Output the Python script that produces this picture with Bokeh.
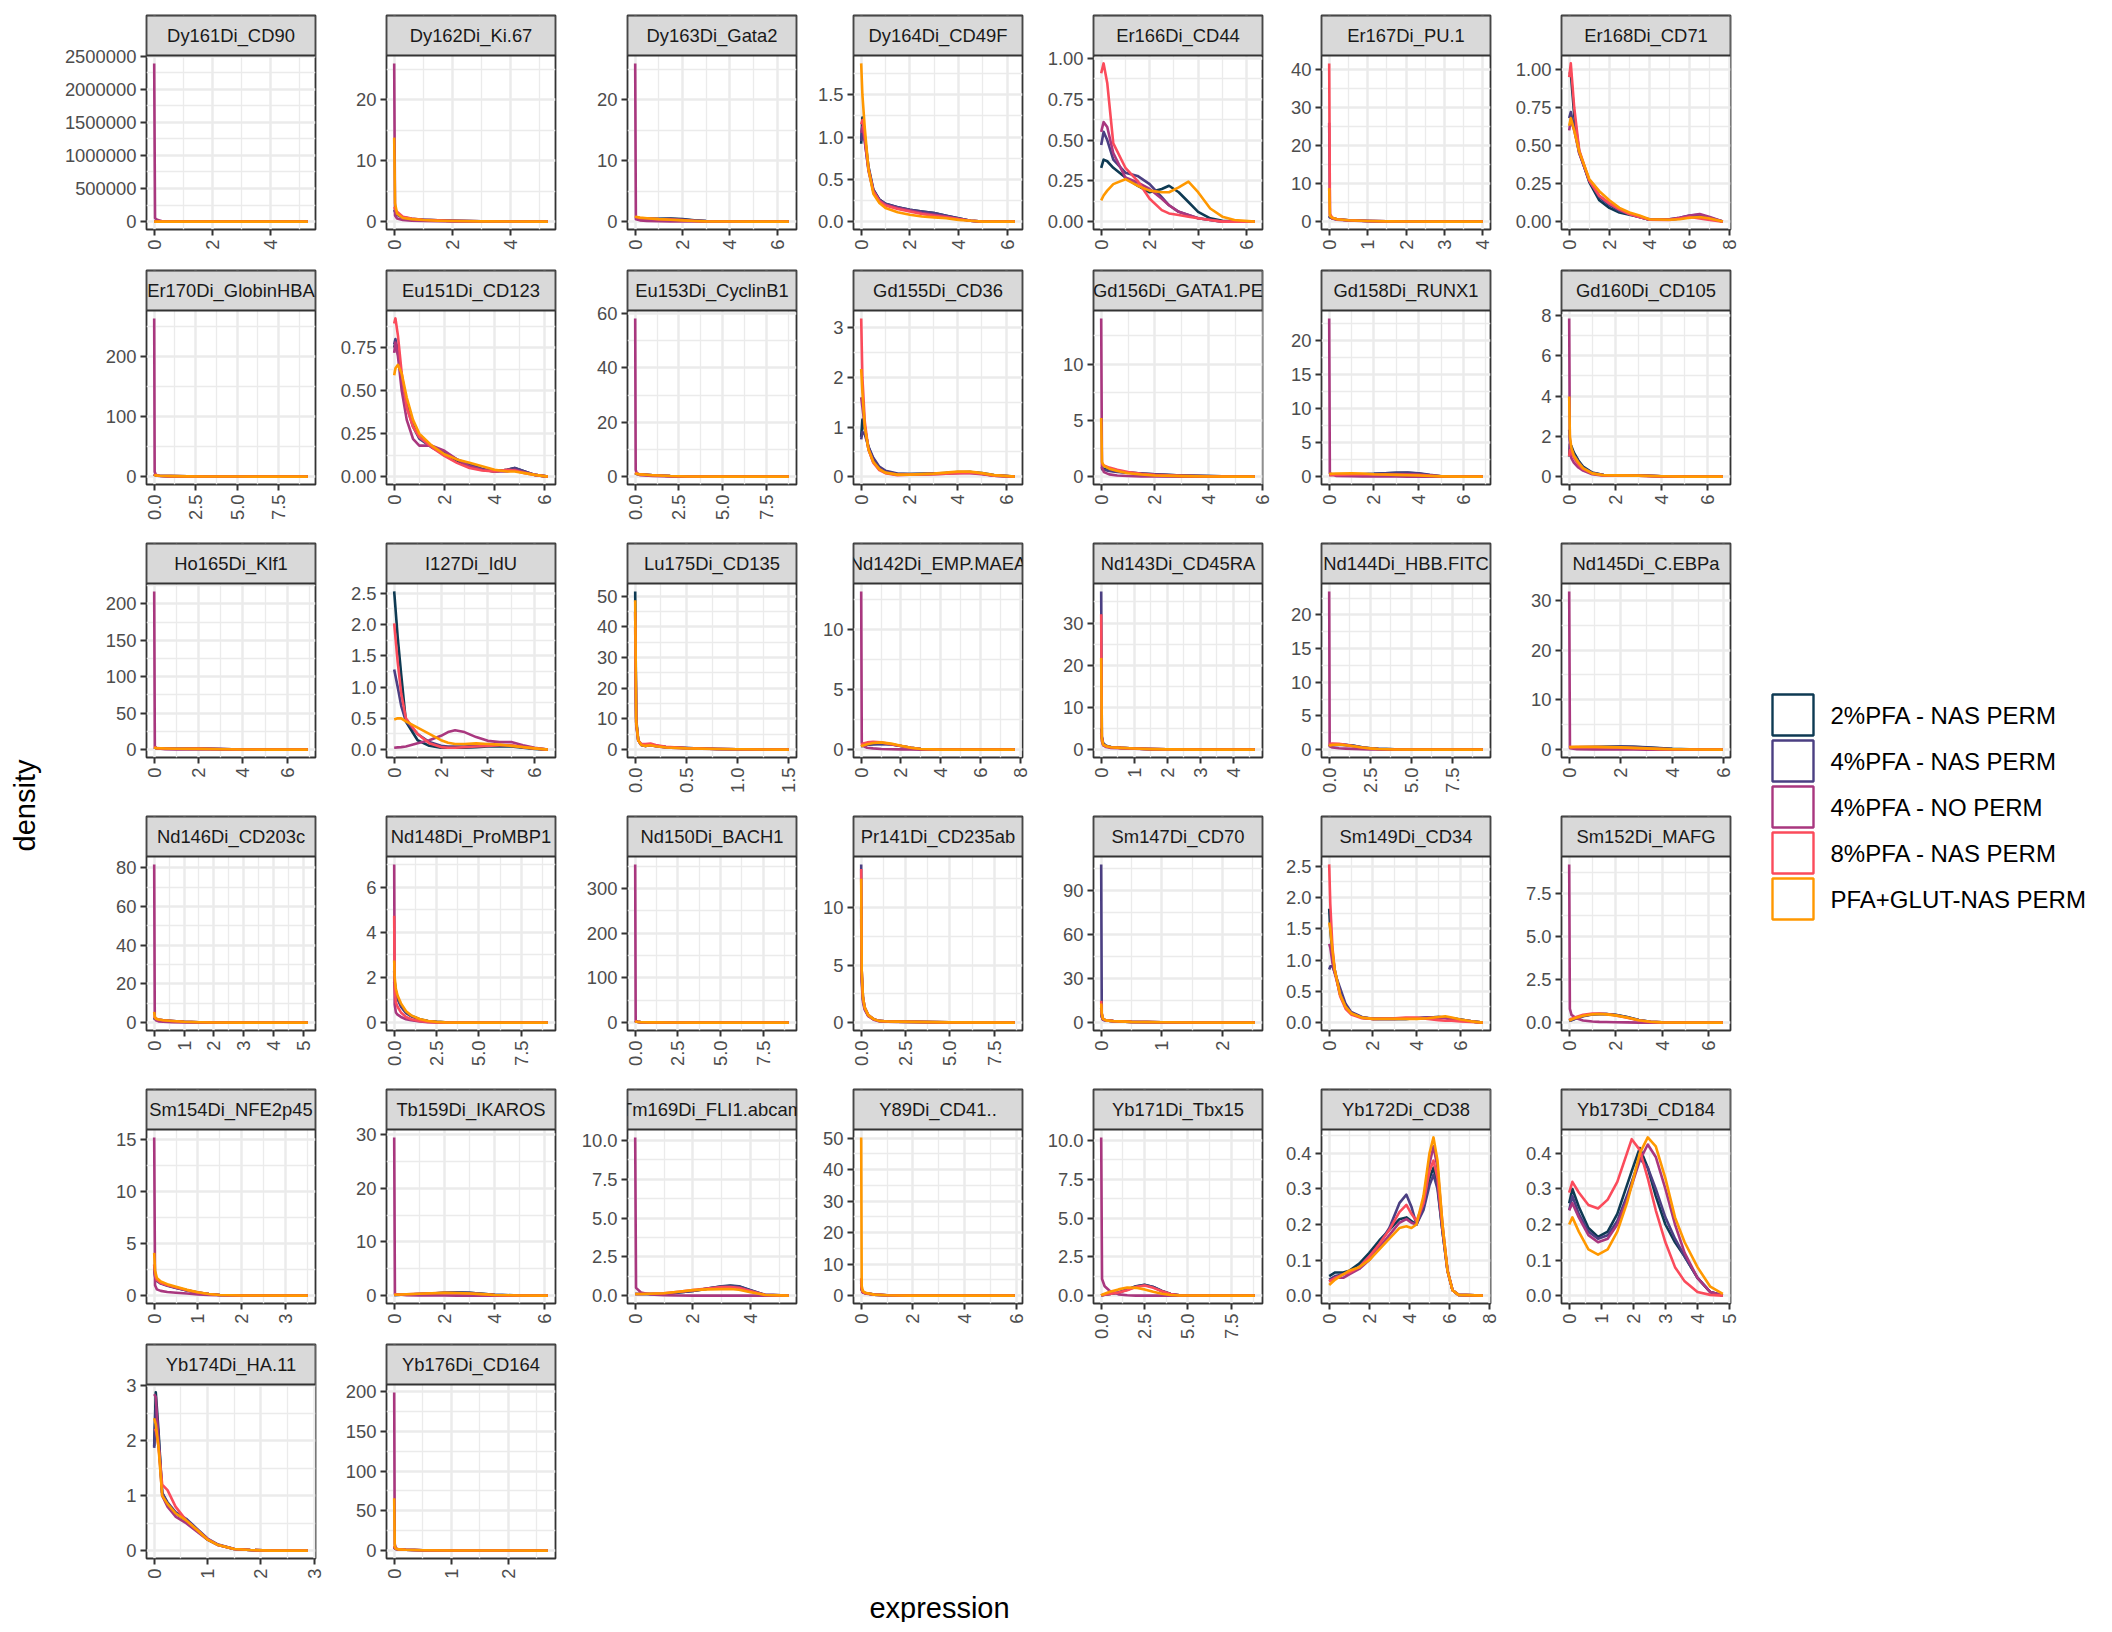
from math import pi

from bokeh.core.properties import value
from bokeh.embed import file_html
from bokeh.layouts import column, row
from bokeh.models import CustomJSTickFormatter, FixedTicker, Range1d
from bokeh.plotting import figure
from bokeh.resources import INLINE

# ---- series -------------------------------------------------------------
SERIES = ["2%PFA - NAS PERM", "4%PFA - NAS PERM", "4%PFA - NO PERM",
          "8%PFA - NAS PERM", "PFA+GLUT-NAS PERM"]
COLORS = ["#0e3a53", "#4b3f82", "#a9377f", "#fb4b5b", "#ff9800"]

# ---- per-panel density curves (one y list per series, in SERIES order) ----
x_dy161 = [0, 0.03, 0.1, 0.3, 1, 2, 3, 4, 5.3]
y_dy161 = [[20, 5, 2, 1, 0.3, 0.1, 0.05, 0.02, 0],
           [18, 5, 2, 1, 0.3, 0.1, 0.05, 0.02, 0],
           [2390000, 50000, 30000, 0, 0, 0, 0, 0, 0],
           [22, 6, 2, 1, 0.3, 0.1, 0.05, 0.02, 0],
           [25, 6, 2, 1, 0.3, 0.1, 0.05, 0.02, 0]]
xt_dy161 = [0, 2, 4]
yt_dy161 = [0, 500000, 1000000, 1500000, 2000000, 2500000]

x_dy162 = [0, 0.03, 0.1, 0.3, 0.6, 1, 1.5, 2, 3, 4, 5.3]
y_dy162 = [[2.0, 1.8, 1.3, 0.7, 0.45, 0.3, 0.2, 0.12, 0.05, 0.02, 0],
           [1.8, 1.6, 1.1, 0.6, 0.4, 0.3, 0.2, 0.12, 0.05, 0.02, 0],
           [26, 1.0, 0.5, 0.25, 0.15, 0.1, 0.06, 0.04, 0.02, 0.01, 0],
           [2.4, 2.1, 1.6, 0.8, 0.5, 0.3, 0.2, 0.12, 0.05, 0.02, 0],
           [13.8, 3.0, 1.3, 0.6, 0.4, 0.25, 0.15, 0.1, 0.04, 0.02, 0]]
xt_dy162 = [0, 2, 4]
yt_dy162 = [0, 10, 20]

x_dy163 = [0, 0.03, 0.2, 0.5, 1, 1.5, 2, 2.5, 3, 4, 5, 6.5]
y_dy163 = [[0.6, 0.6, 0.55, 0.5, 0.45, 0.5, 0.4, 0.2, 0.08, 0.02, 0, 0],
           [0.5, 0.5, 0.45, 0.4, 0.4, 0.45, 0.35, 0.18, 0.07, 0.02, 0, 0],
           [26, 0.4, 0.2, 0.1, 0.05, 0.03, 0.02, 0.01, 0, 0, 0, 0],
           [0.8, 0.75, 0.6, 0.5, 0.4, 0.35, 0.25, 0.12, 0.05, 0.01, 0, 0],
           [0.9, 0.8, 0.65, 0.55, 0.4, 0.3, 0.2, 0.1, 0.04, 0.01, 0, 0]]
xt_dy163 = [0, 2, 4, 6]
yt_dy163 = [0, 10, 20]

x_dy164 = [0, 0.05, 0.15, 0.3, 0.5, 0.75, 1, 1.5, 2, 2.5, 3, 3.5, 4, 4.5, 5, 6.32]
y_dy164 = [[0.92, 1.23, 1.0, 0.65, 0.38, 0.26, 0.21, 0.17, 0.14, 0.12, 0.1, 0.07, 0.04, 0.01, 0, 0],
           [0.95, 1.1, 0.95, 0.62, 0.37, 0.26, 0.21, 0.17, 0.14, 0.12, 0.1, 0.07, 0.04, 0.01, 0, 0],
           [1.05, 1.12, 0.95, 0.6, 0.36, 0.25, 0.2, 0.16, 0.13, 0.1, 0.08, 0.06, 0.03, 0.01, 0, 0],
           [1.15, 1.2, 1.0, 0.63, 0.36, 0.24, 0.19, 0.15, 0.12, 0.09, 0.07, 0.05, 0.03, 0.01, 0, 0],
           [1.87, 1.5, 1.1, 0.62, 0.33, 0.22, 0.16, 0.11, 0.08, 0.06, 0.05, 0.04, 0.02, 0.01, 0, 0]]
xt_dy164 = [0, 2, 4, 6]
yt_dy164 = [0, 0.5, 1.0, 1.5]

x_er166 = [0, 0.1, 0.25, 0.5, 1, 1.5, 2, 2.5, 2.8, 3.2, 3.6, 4, 4.5, 5, 5.5, 6.34]
y_er166 = [[0.33, 0.38, 0.37, 0.33, 0.27, 0.22, 0.18, 0.2, 0.22, 0.18, 0.12, 0.06, 0.02, 0.005, 0, 0],
           [0.47, 0.55, 0.5, 0.38, 0.3, 0.28, 0.23, 0.15, 0.1, 0.06, 0.04, 0.02, 0.01, 0, 0, 0],
           [0.55, 0.61, 0.58, 0.42, 0.27, 0.24, 0.2, 0.14, 0.1, 0.06, 0.04, 0.02, 0.01, 0, 0, 0],
           [0.91, 0.97, 0.85, 0.48, 0.33, 0.25, 0.14, 0.07, 0.05, 0.04, 0.03, 0.02, 0.01, 0, 0, 0],
           [0.13, 0.16, 0.19, 0.23, 0.26, 0.22, 0.19, 0.18, 0.18, 0.21, 0.245, 0.18, 0.08, 0.03, 0.01, 0]]
xt_er166 = [0, 2, 4, 6]
yt_er166 = [0, 0.25, 0.5, 0.75, 1.0]

x_er167 = [0, 0.02, 0.08, 0.2, 0.5, 1, 1.5, 2, 3, 4.0]
y_er167 = [[1.5, 1.2, 0.9, 0.6, 0.35, 0.15, 0.06, 0.02, 0, 0],
           [1.4, 1.1, 0.85, 0.6, 0.35, 0.15, 0.06, 0.02, 0, 0],
           [26, 1.5, 0.8, 0.5, 0.3, 0.12, 0.05, 0.02, 0, 0],
           [41.6, 2.0, 1.0, 0.6, 0.35, 0.15, 0.06, 0.02, 0, 0],
           [8.8, 1.5, 1.0, 0.6, 0.35, 0.15, 0.06, 0.02, 0, 0]]
xt_er167 = [0, 1, 2, 3, 4]
yt_er167 = [0, 10, 20, 30, 40]

x_er168 = [0, 0.08, 0.25, 0.5, 1, 1.5, 2, 2.5, 3, 3.5, 4, 5, 5.5, 6, 6.5, 7, 7.65]
y_er168 = [[0.97, 0.98, 0.7, 0.46, 0.26, 0.14, 0.09, 0.06, 0.045, 0.03, 0.012, 0.012, 0.02, 0.03, 0.04, 0.02, 0],
           [0.68, 0.72, 0.62, 0.45, 0.27, 0.16, 0.11, 0.07, 0.05, 0.03, 0.012, 0.015, 0.025, 0.04, 0.045, 0.025, 0],
           [0.6, 0.67, 0.6, 0.45, 0.27, 0.17, 0.12, 0.08, 0.05, 0.03, 0.015, 0.015, 0.025, 0.04, 0.05, 0.03, 0],
           [0.95, 1.04, 0.75, 0.47, 0.27, 0.17, 0.12, 0.08, 0.05, 0.03, 0.012, 0.01, 0.02, 0.03, 0.02, 0.01, 0],
           [0.63, 0.68, 0.6, 0.46, 0.28, 0.2, 0.14, 0.09, 0.06, 0.04, 0.015, 0.012, 0.015, 0.025, 0.03, 0.02, 0]]
xt_er168 = [0, 2, 4, 6, 8]
yt_er168 = [0, 0.25, 0.5, 0.75, 1.0]

x_er170 = [0, 0.03, 0.1, 0.3, 1, 2, 3, 5, 7, 9.25]
y_er170 = [[4, 3, 2, 1.5, 0.8, 0.4, 0.2, 0.05, 0, 0],
           [3.5, 2.8, 2, 1.4, 0.8, 0.4, 0.2, 0.05, 0, 0],
           [264, 8, 3, 1, 0.3, 0.1, 0.05, 0, 0, 0],
           [4.2, 3, 2, 1.5, 0.8, 0.4, 0.2, 0.05, 0, 0],
           [3, 2.5, 2, 1.5, 0.8, 0.4, 0.2, 0.05, 0, 0]]
xt_er170 = [0, 2.5, 5, 7.5]
yt_er170 = [0, 100, 200]

x_eu151 = [0, 0.05, 0.15, 0.3, 0.5, 0.75, 1, 1.5, 2, 2.5, 3, 3.5, 4, 4.5, 4.8, 5.2, 5.6, 6.12]
y_eu151 = [[0.75, 0.78, 0.72, 0.58, 0.42, 0.3, 0.23, 0.17, 0.13, 0.09, 0.06, 0.04, 0.03, 0.04, 0.05, 0.03, 0.01, 0],
           [0.77, 0.8, 0.73, 0.58, 0.41, 0.29, 0.22, 0.17, 0.14, 0.1, 0.07, 0.045, 0.03, 0.04, 0.05, 0.03, 0.01, 0],
           [0.72, 0.78, 0.7, 0.5, 0.33, 0.22, 0.18, 0.18, 0.15, 0.1, 0.06, 0.04, 0.03, 0.03, 0.04, 0.025, 0.01, 0],
           [0.89, 0.92, 0.82, 0.6, 0.4, 0.29, 0.23, 0.17, 0.12, 0.08, 0.05, 0.035, 0.03, 0.04, 0.035, 0.02, 0.01, 0],
           [0.59, 0.63, 0.65, 0.6, 0.46, 0.33, 0.25, 0.18, 0.13, 0.1, 0.08, 0.06, 0.04, 0.03, 0.03, 0.02, 0.01, 0]]
xt_eu151 = [0, 2, 4, 6]
yt_eu151 = [0, 0.25, 0.5, 0.75]

x_eu153 = [0, 0.03, 0.1, 0.3, 1, 2, 3, 5, 8.78]
y_eu153 = [[1.2, 1.1, 1.0, 0.8, 0.5, 0.2, 0.05, 0, 0],
           [1.1, 1.05, 1.0, 0.8, 0.5, 0.2, 0.05, 0, 0],
           [58.2, 2.5, 1.0, 0.5, 0.2, 0.05, 0, 0, 0],
           [1.5, 1.3, 1.1, 0.8, 0.5, 0.2, 0.05, 0, 0],
           [1.3, 1.2, 1.0, 0.8, 0.5, 0.2, 0.05, 0, 0]]
xt_eu153 = [0, 2.5, 5, 7.5]
yt_eu153 = [0, 20, 40, 60]

x_gd155 = [0, 0.05, 0.15, 0.3, 0.5, 0.75, 1, 1.5, 2, 3, 3.5, 4, 4.5, 5, 5.5, 6.36]
y_gd155 = [[0.8, 1.15, 0.95, 0.6, 0.35, 0.18, 0.1, 0.05, 0.05, 0.06, 0.07, 0.08, 0.09, 0.07, 0.03, 0],
           [0.75, 0.9, 0.85, 0.6, 0.38, 0.2, 0.12, 0.06, 0.05, 0.06, 0.07, 0.09, 0.09, 0.06, 0.02, 0],
           [1.6, 1.4, 1.0, 0.55, 0.3, 0.15, 0.08, 0.04, 0.04, 0.05, 0.06, 0.07, 0.07, 0.05, 0.02, 0],
           [3.19, 2.0, 1.1, 0.55, 0.28, 0.13, 0.07, 0.03, 0.04, 0.05, 0.06, 0.07, 0.08, 0.06, 0.02, 0],
           [2.17, 1.7, 1.0, 0.55, 0.3, 0.15, 0.08, 0.04, 0.04, 0.06, 0.08, 0.1, 0.1, 0.07, 0.03, 0]]
xt_gd155 = [0, 2, 4, 6]
yt_gd155 = [0, 1, 2, 3]

x_gd156 = [0, 0.03, 0.1, 0.3, 0.6, 1, 1.5, 2, 3, 4, 5, 5.72]
y_gd156 = [[0.7, 0.75, 0.7, 0.55, 0.45, 0.35, 0.27, 0.2, 0.1, 0.04, 0.01, 0],
           [0.6, 0.65, 0.6, 0.5, 0.42, 0.35, 0.27, 0.2, 0.1, 0.04, 0.01, 0],
           [14.06, 0.8, 0.4, 0.2, 0.1, 0.05, 0.02, 0.01, 0, 0, 0, 0],
           [1.1, 1.1, 1.0, 0.8, 0.6, 0.4, 0.25, 0.15, 0.06, 0.02, 0, 0],
           [5.2, 1.3, 0.95, 0.7, 0.5, 0.3, 0.18, 0.1, 0.04, 0.01, 0, 0]]
xt_gd156 = [0, 2, 4, 6]
yt_gd156 = [0, 5, 10]

x_gd158 = [0, 0.03, 0.3, 1, 1.5, 2, 2.5, 3, 3.5, 4, 4.5, 5, 6, 6.86]
y_gd158 = [[0.3, 0.3, 0.3, 0.3, 0.35, 0.4, 0.5, 0.55, 0.55, 0.45, 0.2, 0.05, 0, 0],
           [0.25, 0.25, 0.25, 0.3, 0.35, 0.4, 0.5, 0.55, 0.6, 0.5, 0.25, 0.05, 0, 0],
           [23.25, 0.5, 0.1, 0.05, 0.03, 0.02, 0.02, 0.01, 0, 0, 0, 0, 0, 0],
           [0.2, 0.2, 0.25, 0.3, 0.3, 0.3, 0.3, 0.3, 0.3, 0.25, 0.15, 0.05, 0, 0],
           [0.35, 0.4, 0.45, 0.5, 0.45, 0.35, 0.3, 0.25, 0.2, 0.15, 0.08, 0.03, 0, 0]]
xt_gd158 = [0, 2, 4, 6]
yt_gd158 = [0, 5, 10, 15, 20]

x_gd160 = [0, 0.03, 0.1, 0.2, 0.4, 0.6, 1, 1.5, 2, 3, 4, 5, 6.66]
y_gd160 = [[1.0, 1.6, 1.5, 1.2, 0.8, 0.5, 0.2, 0.08, 0.07, 0.06, 0.02, 0, 0],
           [2.33, 1.8, 1.4, 1.1, 0.75, 0.45, 0.18, 0.08, 0.07, 0.06, 0.02, 0, 0],
           [7.86, 1.2, 0.9, 0.7, 0.45, 0.3, 0.12, 0.05, 0.05, 0.04, 0.01, 0, 0],
           [1.0, 1.3, 1.2, 0.95, 0.6, 0.38, 0.15, 0.06, 0.05, 0.04, 0.01, 0, 0],
           [3.98, 2.0, 1.4, 1.05, 0.7, 0.42, 0.16, 0.07, 0.06, 0.05, 0.02, 0, 0]]
xt_gd160 = [0, 2, 4, 6]
yt_gd160 = [0, 2, 4, 6, 8]

x_ho165 = [0, 0.03, 0.1, 0.5, 1, 2, 3, 4, 5, 6.93]
y_ho165 = [[3, 2.5, 2, 1.5, 1.2, 1.5, 0.8, 0.2, 0, 0],
           [2.8, 2.4, 2, 1.5, 1.2, 1.4, 0.8, 0.2, 0, 0],
           [217, 4, 2, 0.5, 0.2, 0.1, 0.05, 0, 0, 0],
           [4, 3, 2, 1.5, 1.2, 1.3, 0.7, 0.2, 0, 0],
           [3, 2.5, 2, 1.5, 1.2, 1.0, 0.5, 0.1, 0, 0]]
xt_ho165 = [0, 2, 4, 6]
yt_ho165 = [0, 50, 100, 150, 200]

x_i127 = [0, 0.15, 0.3, 0.5, 1, 1.5, 2, 2.3, 2.6, 3, 3.5, 4, 4.5, 5, 5.5, 6, 6.56]
y_i127 = [[2.53, 1.8, 1.2, 0.45, 0.15, 0.06, 0.03, 0.03, 0.03, 0.03, 0.04, 0.05, 0.05, 0.05, 0.03, 0.01, 0],
          [1.28, 1.0, 0.7, 0.45, 0.25, 0.12, 0.06, 0.05, 0.05, 0.05, 0.06, 0.07, 0.07, 0.06, 0.04, 0.02, 0],
          [0.03, 0.035, 0.04, 0.05, 0.1, 0.15, 0.22, 0.28, 0.31, 0.28, 0.2, 0.14, 0.12, 0.12, 0.07, 0.03, 0],
          [2.02, 1.4, 0.9, 0.5, 0.25, 0.1, 0.04, 0.03, 0.03, 0.04, 0.05, 0.06, 0.07, 0.07, 0.04, 0.02, 0],
          [0.48, 0.5, 0.5, 0.45, 0.35, 0.25, 0.15, 0.11, 0.09, 0.09, 0.1, 0.09, 0.08, 0.06, 0.04, 0.02, 0]]
xt_i127 = [0, 2, 4, 6]
yt_i127 = [0, 0.5, 1.0, 1.5, 2.0, 2.5]

x_lu175 = [0, 0.01, 0.03, 0.06, 0.1, 0.15, 0.2, 0.3, 0.5, 0.8, 1.0, 1.5]
y_lu175 = [[51.6, 10, 3, 1.5, 1.2, 1.5, 1.2, 0.8, 0.5, 0.2, 0.1, 0],
           [45, 9, 3, 1.5, 1.2, 1.5, 1.2, 0.8, 0.5, 0.2, 0.1, 0],
           [40, 8, 3, 1.5, 1.2, 1.4, 1.1, 0.7, 0.4, 0.2, 0.1, 0],
           [45, 9, 3, 1.8, 1.8, 2.0, 1.5, 0.9, 0.5, 0.2, 0.1, 0],
           [48.7, 9, 3, 1.5, 1.2, 1.4, 1.1, 0.7, 0.4, 0.2, 0.1, 0]]
xt_lu175 = [0, 0.5, 1.0, 1.5]
yt_lu175 = [0, 10, 20, 30, 40, 50]

x_nd142 = [0, 0.03, 0.1, 0.3, 0.6, 1, 1.5, 2, 2.5, 3, 4, 7.72]
y_nd142 = [[0.3, 0.3, 0.35, 0.4, 0.45, 0.5, 0.45, 0.3, 0.15, 0.05, 0, 0],
           [0.28, 0.3, 0.33, 0.4, 0.45, 0.48, 0.43, 0.3, 0.15, 0.05, 0, 0],
           [13.2, 0.6, 0.3, 0.15, 0.1, 0.05, 0.03, 0.02, 0.01, 0, 0, 0],
           [0.4, 0.45, 0.5, 0.6, 0.65, 0.6, 0.45, 0.3, 0.15, 0.05, 0, 0],
           [0.25, 0.3, 0.35, 0.45, 0.55, 0.6, 0.5, 0.32, 0.15, 0.05, 0, 0]]
xt_nd142 = [0, 2, 4, 6, 8]
yt_nd142 = [0, 5, 10]

x_nd143 = [0, 0.02, 0.06, 0.15, 0.3, 0.6, 1, 1.5, 2, 3, 4.66]
y_nd143 = [[5, 3, 1.5, 0.9, 0.6, 0.4, 0.25, 0.12, 0.05, 0, 0],
           [37.5, 3, 1.2, 0.8, 0.55, 0.4, 0.25, 0.12, 0.05, 0, 0],
           [4, 2, 1.0, 0.6, 0.4, 0.3, 0.2, 0.1, 0.04, 0, 0],
           [32.1, 3, 1.2, 0.8, 0.55, 0.4, 0.25, 0.12, 0.05, 0, 0],
           [21.7, 2.5, 1.2, 0.8, 0.55, 0.4, 0.25, 0.12, 0.05, 0, 0]]
xt_nd143 = [0, 1, 2, 3, 4]
yt_nd143 = [0, 10, 20, 30]

x_nd144 = [0, 0.03, 0.2, 0.6, 1, 1.5, 2, 2.5, 3, 4, 6, 9.38]
y_nd144 = [[0.5, 0.6, 0.7, 0.75, 0.7, 0.55, 0.35, 0.2, 0.1, 0.03, 0, 0],
           [0.45, 0.55, 0.65, 0.7, 0.68, 0.55, 0.35, 0.2, 0.1, 0.03, 0, 0],
           [23.5, 0.5, 0.3, 0.2, 0.15, 0.1, 0.06, 0.03, 0.02, 0, 0, 0],
           [0.8, 0.85, 0.9, 0.85, 0.7, 0.5, 0.3, 0.15, 0.08, 0.02, 0, 0],
           [0.5, 0.6, 0.7, 0.75, 0.65, 0.5, 0.32, 0.18, 0.08, 0.02, 0, 0]]
xt_nd144 = [0, 2.5, 5, 7.5]
yt_nd144 = [0, 5, 10, 15, 20]

x_nd145 = [0, 0.03, 0.3, 1, 1.5, 2, 2.5, 3, 3.5, 4, 5, 5.96]
y_nd145 = [[0.4, 0.4, 0.45, 0.5, 0.55, 0.6, 0.55, 0.45, 0.3, 0.15, 0.02, 0],
           [0.35, 0.4, 0.45, 0.5, 0.55, 0.6, 0.55, 0.4, 0.25, 0.12, 0.02, 0],
           [31.8, 0.3, 0.1, 0.05, 0.03, 0.02, 0.01, 0, 0, 0, 0, 0],
           [0.5, 0.5, 0.5, 0.5, 0.45, 0.4, 0.3, 0.2, 0.1, 0.05, 0, 0],
           [0.45, 0.5, 0.55, 0.55, 0.5, 0.45, 0.35, 0.25, 0.15, 0.07, 0.01, 0]]
xt_nd145 = [0, 2, 4, 6]
yt_nd145 = [0, 10, 20, 30]

x_nd146 = [0, 0.02, 0.06, 0.15, 0.3, 0.6, 1, 1.5, 2, 3, 5.15]
y_nd146 = [[2.5, 2.0, 1.8, 1.5, 1.2, 0.8, 0.4, 0.15, 0.05, 0, 0],
           [2.3, 2.0, 1.7, 1.5, 1.2, 0.8, 0.4, 0.15, 0.05, 0, 0],
           [81.8, 3, 1.2, 0.6, 0.4, 0.25, 0.12, 0.05, 0.02, 0, 0],
           [3, 2.5, 2, 1.6, 1.2, 0.8, 0.4, 0.15, 0.05, 0, 0],
           [5.5, 3, 2, 1.6, 1.2, 0.8, 0.4, 0.15, 0.05, 0, 0]]
xt_nd146 = [0, 1, 2, 3, 4, 5]
yt_nd146 = [0, 20, 40, 60, 80]

x_nd148 = [0, 0.03, 0.1, 0.2, 0.4, 0.7, 1, 1.5, 2, 2.5, 3, 4, 9.07]
y_nd148 = [[2.3, 1.8, 1.4, 1.1, 0.75, 0.45, 0.3, 0.15, 0.07, 0.03, 0.01, 0, 0],
           [1.8, 1.6, 1.3, 1.05, 0.7, 0.42, 0.28, 0.14, 0.06, 0.03, 0.01, 0, 0],
           [7.0, 0.8, 0.45, 0.35, 0.25, 0.15, 0.1, 0.05, 0.02, 0.01, 0, 0, 0],
           [4.73, 1.5, 0.9, 0.7, 0.45, 0.25, 0.15, 0.07, 0.03, 0.01, 0, 0, 0],
           [2.75, 2.0, 1.5, 1.2, 0.85, 0.5, 0.32, 0.16, 0.07, 0.03, 0.01, 0, 0]]
xt_nd148 = [0, 2.5, 5, 7.5]
yt_nd148 = [0, 2, 4, 6]

x_nd150 = [0, 0.03, 0.1, 0.3, 1, 2, 4, 9.0]
y_nd150 = [[4, 3, 2, 1, 0.5, 0.2, 0, 0],
           [3.8, 3, 2, 1, 0.5, 0.2, 0, 0],
           [354, 5, 2, 1, 0.3, 0.1, 0, 0],
           [4.2, 3, 2, 1, 0.5, 0.2, 0, 0],
           [3, 2.5, 2, 1, 0.5, 0.2, 0, 0]]
xt_nd150 = [0, 2.5, 5, 7.5]
yt_nd150 = [0, 100, 200, 300]

x_pr141 = [0, 0.03, 0.1, 0.2, 0.4, 0.7, 1, 1.5, 2, 3, 4, 5, 8.65]
y_pr141 = [[10, 4, 2, 1.2, 0.6, 0.3, 0.15, 0.1, 0.08, 0.06, 0.04, 0.02, 0],
           [13.74, 4.5, 2.2, 1.3, 0.65, 0.3, 0.15, 0.1, 0.08, 0.06, 0.04, 0.02, 0],
           [9, 3.5, 1.8, 1.1, 0.55, 0.25, 0.12, 0.08, 0.06, 0.05, 0.03, 0.01, 0],
           [13.35, 4.5, 2.2, 1.3, 0.65, 0.3, 0.15, 0.1, 0.08, 0.06, 0.04, 0.02, 0],
           [12.5, 4.5, 2.2, 1.3, 0.65, 0.3, 0.15, 0.1, 0.08, 0.06, 0.04, 0.02, 0]]
xt_pr141 = [0, 2.5, 5, 7.5]
yt_pr141 = [0, 5, 10]

x_sm147 = [0, 0.01, 0.03, 0.08, 0.2, 0.5, 1, 1.5, 2.53]
y_sm147 = [[10, 4, 2, 1.5, 1, 0.5, 0.2, 0.05, 0],
           [107.8, 6, 2.5, 1.5, 1, 0.5, 0.2, 0.05, 0],
           [8, 4, 2, 1.5, 1, 0.5, 0.2, 0.05, 0],
           [14.8, 6, 2.5, 1.5, 1, 0.5, 0.2, 0.05, 0],
           [13, 6, 2.5, 1.5, 1, 0.5, 0.2, 0.05, 0]]
xt_sm147 = [0, 1, 2]
yt_sm147 = [0, 30, 60, 90]

x_sm149 = [0, 0.05, 0.15, 0.25, 0.5, 0.75, 1, 1.5, 2, 3, 3.5, 4, 4.5, 5, 5.3, 5.6, 6, 6.5, 7.02]
y_sm149 = [[1.82, 1.5, 1.1, 0.85, 0.45, 0.25, 0.15, 0.08, 0.06, 0.06, 0.06, 0.07, 0.08, 0.09, 0.08, 0.07, 0.05, 0.02, 0],
           [0.85, 0.9, 0.9, 0.8, 0.55, 0.3, 0.17, 0.09, 0.06, 0.06, 0.06, 0.07, 0.08, 0.09, 0.08, 0.07, 0.05, 0.02, 0],
           [1.26, 1.2, 0.95, 0.8, 0.45, 0.25, 0.15, 0.08, 0.06, 0.06, 0.07, 0.07, 0.08, 0.08, 0.07, 0.05, 0.04, 0.02, 0],
           [2.53, 1.9, 1.2, 0.85, 0.42, 0.22, 0.13, 0.07, 0.06, 0.07, 0.08, 0.08, 0.06, 0.04, 0.03, 0.03, 0.02, 0.01, 0],
           [1.6, 1.5, 1.15, 0.85, 0.45, 0.25, 0.15, 0.08, 0.06, 0.06, 0.06, 0.06, 0.07, 0.09, 0.1, 0.08, 0.05, 0.02, 0]]
xt_sm149 = [0, 2, 4, 6]
yt_sm149 = [0, 0.5, 1.0, 1.5, 2.0, 2.5]

x_sm152 = [0, 0.03, 0.1, 0.3, 0.6, 1, 1.3, 1.6, 2, 2.5, 3, 3.5, 4, 6.62]
y_sm152 = [[0.1, 0.12, 0.15, 0.25, 0.38, 0.48, 0.5, 0.5, 0.45, 0.32, 0.15, 0.05, 0.01, 0],
           [0.1, 0.11, 0.14, 0.24, 0.37, 0.47, 0.5, 0.49, 0.44, 0.31, 0.15, 0.05, 0.01, 0],
           [9.2, 0.8, 0.45, 0.25, 0.12, 0.06, 0.04, 0.03, 0.02, 0.01, 0, 0, 0, 0],
           [0.15, 0.18, 0.22, 0.32, 0.45, 0.52, 0.53, 0.5, 0.42, 0.28, 0.12, 0.04, 0.01, 0],
           [0.12, 0.14, 0.18, 0.28, 0.4, 0.48, 0.5, 0.48, 0.42, 0.3, 0.14, 0.05, 0.01, 0]]
xt_sm152 = [0, 2, 4, 6]
yt_sm152 = [0, 2.5, 5, 7.5]

x_sm154 = [0, 0.02, 0.06, 0.15, 0.3, 0.5, 0.75, 1, 1.25, 1.5, 2, 3.51]
y_sm154 = [[2.9, 2.0, 1.5, 1.2, 1.0, 0.75, 0.5, 0.3, 0.15, 0.06, 0.01, 0],
           [2.5, 1.8, 1.4, 1.15, 0.95, 0.72, 0.48, 0.28, 0.14, 0.06, 0.01, 0],
           [15.2, 1.0, 0.6, 0.45, 0.35, 0.28, 0.2, 0.12, 0.06, 0.03, 0.01, 0],
           [3.0, 2.0, 1.5, 1.2, 1.0, 0.78, 0.52, 0.3, 0.15, 0.06, 0.01, 0],
           [4.1, 2.4, 1.7, 1.35, 1.1, 0.85, 0.55, 0.32, 0.15, 0.06, 0.01, 0]]
xt_sm154 = [0, 1, 2, 3]
yt_sm154 = [0, 5, 10, 15]

x_tb159 = [0, 0.03, 0.5, 1, 1.5, 2, 2.5, 3, 3.5, 4, 5, 6.12]
y_tb159 = [[0.1, 0.12, 0.2, 0.3, 0.4, 0.5, 0.55, 0.5, 0.35, 0.15, 0.02, 0],
           [0.1, 0.12, 0.2, 0.3, 0.4, 0.52, 0.57, 0.5, 0.33, 0.14, 0.02, 0],
           [29.5, 0.3, 0.05, 0.02, 0.01, 0.01, 0, 0, 0, 0, 0, 0],
           [0.15, 0.18, 0.25, 0.35, 0.42, 0.48, 0.45, 0.38, 0.25, 0.1, 0.01, 0],
           [0.12, 0.15, 0.25, 0.35, 0.45, 0.5, 0.48, 0.4, 0.27, 0.12, 0.02, 0]]
xt_tb159 = [0, 2, 4, 6]
yt_tb159 = [0, 10, 20, 30]

x_tm169 = [0, 0.03, 0.2, 0.5, 1, 1.5, 2, 2.5, 3, 3.3, 3.6, 4, 4.5, 5.33]
y_tm169 = [[0.1, 0.1, 0.1, 0.1, 0.12, 0.2, 0.3, 0.45, 0.6, 0.65, 0.6, 0.35, 0.05, 0],
           [0.1, 0.1, 0.1, 0.1, 0.12, 0.2, 0.3, 0.45, 0.58, 0.62, 0.58, 0.35, 0.05, 0],
           [10.2, 0.5, 0.2, 0.08, 0.03, 0.01, 0, 0, 0, 0, 0, 0, 0, 0],
           [0.1, 0.1, 0.1, 0.12, 0.15, 0.25, 0.35, 0.45, 0.55, 0.55, 0.5, 0.3, 0.05, 0],
           [0.1, 0.1, 0.1, 0.12, 0.15, 0.25, 0.35, 0.4, 0.42, 0.42, 0.38, 0.22, 0.04, 0]]
xt_tm169 = [0, 2, 4]
yt_tm169 = [0, 2.5, 5, 7.5, 10]

x_y89 = [0, 0.02, 0.06, 0.15, 0.5, 1, 2, 5.94]
y_y89 = [[5, 2, 1.2, 0.8, 0.3, 0.1, 0, 0],
         [4.5, 2, 1.1, 0.8, 0.3, 0.1, 0, 0],
         [4, 1.8, 1.0, 0.7, 0.3, 0.1, 0, 0],
         [5.5, 2.2, 1.2, 0.8, 0.3, 0.1, 0, 0],
         [50.2, 3, 1.5, 0.9, 0.3, 0.1, 0, 0]]
xt_y89 = [0, 2, 4, 6]
yt_y89 = [0, 10, 20, 30, 40, 50]

x_yb171 = [0, 0.05, 0.2, 0.5, 1, 1.5, 2, 2.5, 3, 3.5, 4, 4.5, 8.85]
y_yb171 = [[0, 0.02, 0.05, 0.1, 0.2, 0.4, 0.6, 0.7, 0.55, 0.3, 0.1, 0.02, 0],
           [0, 0.02, 0.05, 0.1, 0.2, 0.38, 0.58, 0.68, 0.55, 0.3, 0.1, 0.02, 0],
           [10.2, 1.07, 0.6, 0.3, 0.08, 0.02, 0, 0, 0, 0, 0, 0, 0],
           [0, 0.02, 0.05, 0.1, 0.2, 0.35, 0.55, 0.65, 0.5, 0.28, 0.1, 0.02, 0],
           [0, 0.05, 0.12, 0.25, 0.4, 0.52, 0.5, 0.4, 0.25, 0.12, 0.04, 0.01, 0]]
xt_yb171 = [0, 2.5, 5, 7.5]
yt_yb171 = [0, 2.5, 5, 7.5, 10]

x_yb172 = [0, 0.3, 0.7, 1, 1.5, 2, 2.5, 3, 3.5, 3.85, 4.1, 4.35, 4.7, 5.0, 5.2, 5.4, 5.65, 5.9, 6.15, 6.45, 7.66]
y_yb172 = [[0.055, 0.065, 0.065, 0.07, 0.09, 0.12, 0.155, 0.185, 0.215, 0.22, 0.21, 0.2, 0.25, 0.33, 0.36, 0.31, 0.18, 0.07, 0.015, 0.002, 0],
           [0.045, 0.055, 0.06, 0.065, 0.08, 0.11, 0.145, 0.19, 0.26, 0.284, 0.25, 0.2, 0.24, 0.31, 0.34, 0.3, 0.18, 0.07, 0.015, 0.002, 0],
           [0.04, 0.05, 0.05, 0.06, 0.075, 0.1, 0.135, 0.17, 0.205, 0.215, 0.205, 0.2, 0.26, 0.37, 0.42, 0.36, 0.2, 0.07, 0.015, 0.002, 0],
           [0.04, 0.05, 0.06, 0.065, 0.08, 0.11, 0.145, 0.185, 0.235, 0.255, 0.23, 0.21, 0.26, 0.35, 0.38, 0.33, 0.19, 0.07, 0.015, 0.002, 0],
           [0.03, 0.045, 0.06, 0.07, 0.08, 0.1, 0.13, 0.16, 0.19, 0.195, 0.19, 0.2, 0.28, 0.4, 0.445, 0.38, 0.2, 0.07, 0.015, 0.002, 0]]
xt_yb172 = [0, 2, 4, 6, 8]
yt_yb172 = [0, 0.1, 0.2, 0.3, 0.4]

x_yb173 = [0, 0.1, 0.3, 0.6, 0.9, 1.2, 1.5, 1.8, 1.95, 2.2, 2.45, 2.7, 3.0, 3.3, 3.6, 4.0, 4.4, 4.79]
y_yb173 = [[0.26, 0.3, 0.25, 0.19, 0.165, 0.18, 0.23, 0.31, 0.35, 0.415, 0.36, 0.28, 0.2, 0.15, 0.11, 0.05, 0.01, 0],
           [0.24, 0.28, 0.23, 0.18, 0.16, 0.17, 0.21, 0.28, 0.32, 0.385, 0.36, 0.3, 0.22, 0.16, 0.11, 0.05, 0.01, 0],
           [0.24, 0.26, 0.22, 0.17, 0.15, 0.16, 0.2, 0.27, 0.31, 0.38, 0.425, 0.39, 0.3, 0.2, 0.12, 0.05, 0.01, 0],
           [0.29, 0.32, 0.29, 0.255, 0.245, 0.27, 0.32, 0.4, 0.44, 0.41, 0.33, 0.24, 0.15, 0.08, 0.04, 0.01, 0.002, 0],
           [0.2, 0.22, 0.18, 0.13, 0.115, 0.13, 0.18, 0.26, 0.31, 0.4, 0.445, 0.42, 0.33, 0.22, 0.15, 0.08, 0.025, 0.005]]
xt_yb173 = [0, 1, 2, 3, 4, 5]
yt_yb173 = [0, 0.1, 0.2, 0.3, 0.4]

x_yb174 = [0, 0.03, 0.08, 0.15, 0.25, 0.4, 0.6, 0.8, 1.0, 1.2, 1.5, 1.8, 2.2, 2.88]
y_yb174 = [[1.9, 2.88, 2.2, 1.05, 0.85, 0.68, 0.55, 0.38, 0.2, 0.1, 0.03, 0.01, 0, 0],
           [1.87, 2.6, 2.1, 1.05, 0.88, 0.7, 0.58, 0.4, 0.22, 0.11, 0.03, 0.01, 0, 0],
           [2.85, 2.8, 2.0, 1.0, 0.8, 0.62, 0.5, 0.35, 0.2, 0.1, 0.03, 0.01, 0, 0],
           [2.19, 2.2, 1.9, 1.2, 1.1, 0.8, 0.55, 0.38, 0.21, 0.1, 0.03, 0.01, 0, 0],
           [2.41, 2.3, 1.9, 1.0, 0.85, 0.68, 0.55, 0.38, 0.2, 0.1, 0.03, 0.01, 0, 0]]
xt_yb174 = [0, 1, 2, 3]
yt_yb174 = [0, 1, 2, 3]

x_yb176 = [0, 0.01, 0.03, 0.08, 0.2, 0.5, 1, 2.69]
y_yb176 = [[5, 3, 2, 1.5, 1, 0.5, 0.1, 0],
           [4.5, 3, 2, 1.5, 1, 0.5, 0.1, 0],
           [199, 8, 3, 1.5, 1, 0.5, 0.1, 0],
           [6, 3, 2, 1.5, 1, 0.5, 0.1, 0],
           [65.8, 5, 2.5, 1.5, 1, 0.5, 0.1, 0]]
xt_yb176 = [0, 1, 2]
yt_yb176 = [0, 50, 100, 150, 200]

PANELS = [
    ("Dy161Di_CD90", x_dy161, y_dy161, xt_dy161, yt_dy161),
    ("Dy162Di_Ki.67", x_dy162, y_dy162, xt_dy162, yt_dy162),
    ("Dy163Di_Gata2", x_dy163, y_dy163, xt_dy163, yt_dy163),
    ("Dy164Di_CD49F", x_dy164, y_dy164, xt_dy164, yt_dy164),
    ("Er166Di_CD44", x_er166, y_er166, xt_er166, yt_er166),
    ("Er167Di_PU.1", x_er167, y_er167, xt_er167, yt_er167),
    ("Er168Di_CD71", x_er168, y_er168, xt_er168, yt_er168),
    ("Er170Di_GlobinHBA", x_er170, y_er170, xt_er170, yt_er170),
    ("Eu151Di_CD123", x_eu151, y_eu151, xt_eu151, yt_eu151),
    ("Eu153Di_CyclinB1", x_eu153, y_eu153, xt_eu153, yt_eu153),
    ("Gd155Di_CD36", x_gd155, y_gd155, xt_gd155, yt_gd155),
    ("Gd156Di_GATA1.PE", x_gd156, y_gd156, xt_gd156, yt_gd156),
    ("Gd158Di_RUNX1", x_gd158, y_gd158, xt_gd158, yt_gd158),
    ("Gd160Di_CD105", x_gd160, y_gd160, xt_gd160, yt_gd160),
    ("Ho165Di_Klf1", x_ho165, y_ho165, xt_ho165, yt_ho165),
    ("I127Di_IdU", x_i127, y_i127, xt_i127, yt_i127),
    ("Lu175Di_CD135", x_lu175, y_lu175, xt_lu175, yt_lu175),
    ("Nd142Di_EMP.MAEA", x_nd142, y_nd142, xt_nd142, yt_nd142),
    ("Nd143Di_CD45RA", x_nd143, y_nd143, xt_nd143, yt_nd143),
    ("Nd144Di_HBB.FITC", x_nd144, y_nd144, xt_nd144, yt_nd144),
    ("Nd145Di_C.EBPa", x_nd145, y_nd145, xt_nd145, yt_nd145),
    ("Nd146Di_CD203c", x_nd146, y_nd146, xt_nd146, yt_nd146),
    ("Nd148Di_ProMBP1", x_nd148, y_nd148, xt_nd148, yt_nd148),
    ("Nd150Di_BACH1", x_nd150, y_nd150, xt_nd150, yt_nd150),
    ("Pr141Di_CD235ab", x_pr141, y_pr141, xt_pr141, yt_pr141),
    ("Sm147Di_CD70", x_sm147, y_sm147, xt_sm147, yt_sm147),
    ("Sm149Di_CD34", x_sm149, y_sm149, xt_sm149, yt_sm149),
    ("Sm152Di_MAFG", x_sm152, y_sm152, xt_sm152, yt_sm152),
    ("Sm154Di_NFE2p45", x_sm154, y_sm154, xt_sm154, yt_sm154),
    ("Tb159Di_IKAROS", x_tb159, y_tb159, xt_tb159, yt_tb159),
    ("Tm169Di_FLI1.abcam", x_tm169, y_tm169, xt_tm169, yt_tm169),
    ("Y89Di_CD41..", x_y89, y_y89, xt_y89, yt_y89),
    ("Yb171Di_Tbx15", x_yb171, y_yb171, xt_yb171, yt_yb171),
    ("Yb172Di_CD38", x_yb172, y_yb172, xt_yb172, yt_yb172),
    ("Yb173Di_CD184", x_yb173, y_yb173, xt_yb173, yt_yb173),
    ("Yb174Di_HA.11", x_yb174, y_yb174, xt_yb174, yt_yb174),
    ("Yb176Di_CD164", x_yb176, y_yb176, xt_yb176, yt_yb176),
]

# ---- layout (pixels) ------------------------------------------------------
NCOL = 7
FRAME_W = 169
DATA_H = 174
STRIP_H = 40
RIGHT = 12
COL_LEFT = [98, 59, 60, 45, 59, 47, 59]
ROW_TOP = [15, 2, 2, 2, 2, 2]
ROW_BOTTOM = [39, 57, 57, 57, 38, 30]
YLAB_W = 48
XLAB_H = 34
LEG_W = 352

FONT = "Liberation Sans"
TICK_FS = "18.4px"
GRID = "#EBEBEB"
DARK = "#333333"


def decimals(ticks):
    for d in range(5):
        if all(abs(round(t, d) - t) < 1e-9 for t in ticks):
            return d
    return 4


def minor(ticks, lo, hi):
    step = ticks[1] - ticks[0]
    out, t = [], ticks[0] - step / 2
    while t < hi:
        if t > lo:
            out.append(t)
        t += step
    return out


def style_axis(axis, ticks, lo, hi):
    ticker = FixedTicker(ticks=[t for t in ticks if lo <= t <= hi],
                         minor_ticks=minor(ticks, lo, hi))
    axis.ticker = ticker
    axis.formatter = CustomJSTickFormatter(args=dict(d=decimals(ticks)),
                                           code="return tick.toFixed(d);")
    axis.axis_line_color = None
    axis.minor_tick_line_color = None
    axis.major_tick_line_color = DARK
    axis.major_tick_line_width = 2
    axis.major_tick_in = 0
    axis.major_tick_out = 6
    axis.major_label_standoff = 4
    axis.major_label_text_font = FONT
    axis.major_label_text_font_size = TICK_FS
    axis.major_label_text_color = "#4D4D4D"
    return ticker


def make_panel(name, xs, ys, xt, yt, left, top, bottom):
    lo, hi = min(xs), max(xs)
    x0, x1 = lo - 0.05 * (hi - lo), hi + 0.05 * (hi - lo)
    ymax = max(max(s) for s in ys)
    y0, y1 = -0.05 * ymax, 1.05 * ymax
    ytop = y1 + (y1 - y0) * STRIP_H / DATA_H

    p = figure(title=None, frame_width=FRAME_W, frame_height=DATA_H + STRIP_H,
               x_range=Range1d(x0, x1), y_range=Range1d(y0, ytop),
               output_backend="svg", toolbar_location=None,
               min_border_left=left, min_border_right=RIGHT,
               min_border_top=top, min_border_bottom=bottom)
    p.background_fill_color = "white"
    p.border_fill_color = "white"
    p.outline_line_color = DARK
    p.outline_line_width = 1.8

    xtick = style_axis(p.xaxis[0], xt, x0, x1)
    ytick = style_axis(p.yaxis[0], yt, y0, y1)
    p.xaxis.major_label_orientation = pi / 2
    p.xgrid.ticker = xtick
    p.ygrid.ticker = ytick
    for g in (p.xgrid, p.ygrid):
        g.grid_line_color = GRID
        g.grid_line_width = 2.5
        g.minor_grid_line_color = GRID
        g.minor_grid_line_width = 1.3

    for s, c in zip(ys, COLORS):
        p.line(xs, s, line_color=c, line_width=2.6, line_join="round")

    # facet strip sits in the top part of the frame
    p.quad(left=[x0], right=[x1], bottom=[y1], top=[ytop],
           fill_color="#D9D9D9", line_color=DARK, line_width=1.8)
    p.text(x=[(x0 + x1) / 2], y=[(y1 + ytop) / 2], text=[name],
           text_font=value(FONT), text_font_size=TICK_FS,
           text_color="#1A1A1A", text_align="center", text_baseline="middle")
    return p


rows = []
for r in range((len(PANELS) + NCOL - 1) // NCOL):
    figs = []
    for c in range(NCOL):
        i = r * NCOL + c
        if i >= len(PANELS):
            break
        name, xs, ys, xt, yt = PANELS[i]
        figs.append(make_panel(name, xs, ys, xt, yt, COL_LEFT[c],
                               ROW_TOP[r], ROW_BOTTOM[r]))
    rows.append(row(*figs))

grid_w = sum(l + FRAME_W + RIGHT for l in COL_LEFT)
grid_h = sum(t + STRIP_H + DATA_H + b for t, b in zip(ROW_TOP, ROW_BOTTOM))
total_h = grid_h + XLAB_H

# x axis title
xlab = figure(width=grid_w, height=XLAB_H, x_range=Range1d(0, grid_w),
              y_range=Range1d(XLAB_H, 0), x_axis_type=None, y_axis_type=None,
              output_backend="svg", toolbar_location=None, min_border=0,
              outline_line_color=None)
xlab.grid.visible = False
xlab.text(x=[939 - YLAB_W], y=[1606 - grid_h], text=["expression"],
          text_font=value(FONT), text_font_size="29px", text_color="black",
          text_align="center", text_baseline="middle")

# y axis title
ylab = figure(width=YLAB_W, height=total_h, x_range=Range1d(0, YLAB_W),
              y_range=Range1d(total_h, 0), x_axis_type=None, y_axis_type=None,
              output_backend="svg", toolbar_location=None, min_border=0,
              outline_line_color=None)
ylab.grid.visible = False
ylab.text(x=[24], y=[805], text=["density"], angle=pi / 2,
          text_font=value(FONT), text_font_size="29px", text_color="black",
          text_align="center", text_baseline="middle")

# legend
KEY, KEY_PITCH, KEY_X, KEY_TOP = 43, 46, 1771 - YLAB_W - grid_w, 693
leg = figure(width=LEG_W, height=total_h, x_range=Range1d(0, LEG_W),
             y_range=Range1d(total_h, 0), x_axis_type=None, y_axis_type=None,
             output_backend="svg", toolbar_location=None, min_border=0,
             outline_line_color=None)
leg.grid.visible = False
tops = [KEY_TOP + i * KEY_PITCH for i in range(len(SERIES))]
leg.quad(left=[KEY_X + 1] * len(SERIES), right=[KEY_X + KEY - 1] * len(SERIES),
         top=[t + 1 for t in tops], bottom=[t + KEY - 1 for t in tops],
         fill_color="white", line_color=COLORS, line_width=2.4)
leg.text(x=[KEY_X + KEY + 16] * len(SERIES), y=[t + KEY / 2 for t in tops],
         text=SERIES, text_font=value(FONT), text_font_size="24px",
         text_color="black", text_align="left", text_baseline="middle")

p = row(ylab, column(*rows, xlab), leg)

open("out.html", "w").write(file_html(p, INLINE))
